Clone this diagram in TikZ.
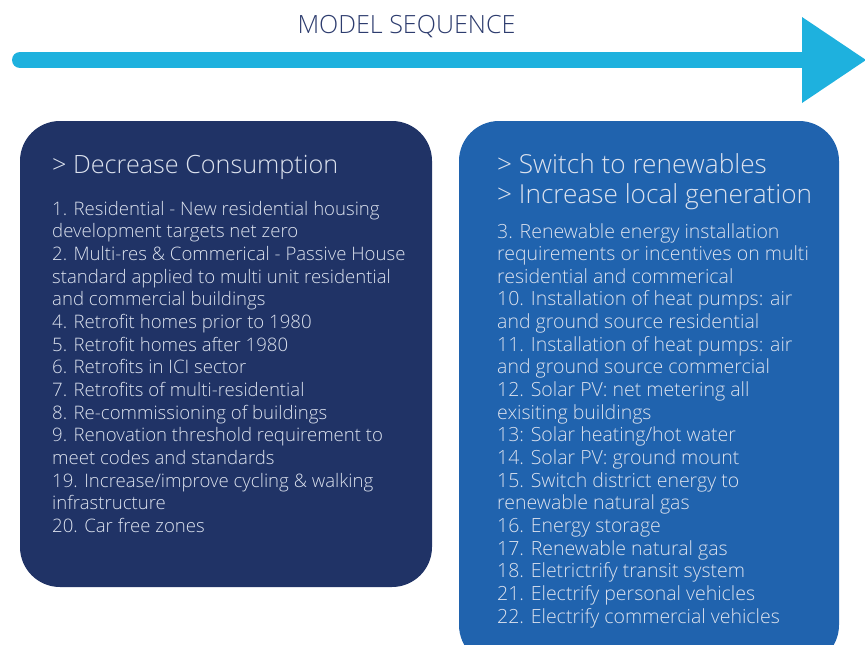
\documentclass[tikz,border=0pt]{standalone}
\usepackage{fontspec}
\setmainfont{Open Sans Light}
\definecolor{navy}{HTML}{203366}
\definecolor{boxblue}{HTML}{2063AE}
\definecolor{arrowblue}{HTML}{1EB1DE}
\definecolor{titlecol}{HTML}{2D3C6E}
\definecolor{txt}{HTML}{DCE2EE}
\tikzset{
  bodyline/.style={anchor=base west, inner sep=0pt, text=txt, font=\fontsize{18.6}{22}\selectfont},
  rbodyline/.style={bodyline, font=\fontsize{19.5}{22}\selectfont},
  headline/.style={anchor=base west, inner sep=0pt, text=txt, font=\fontsize{25.2}{28}\selectfont},
  rheadline/.style={headline, font=\fontsize{26.2}{28}\selectfont},
}
\begin{document}
\begin{tikzpicture}[x=1pt,y=-1pt]
\useasboundingbox (0,0) rectangle (865,645);
\clip (0,0) rectangle (865,645);
% title
\node[anchor=base, inner sep=0pt, text=titlecol, font=\fontsize{25.1}{28}\selectfont] (title) at (406.5,33) {MODEL SEQUENCE};
% arrow
\coordinate (as) at (20,60);
\coordinate (ae) at (806,60);
\draw[arrowblue, line width=16pt, line cap=round] (as) -- (ae);
\fill[arrowblue] (802,17) -- (866,60) -- (802,103) -- cycle;
% boxes
\fill[navy, rounded corners=40pt] (20,121) rectangle (432,587);
\fill[boxblue, rounded corners=40pt] (459,121) rectangle (839,665);
% left text
\node[headline] (lh) at (52,173) {> Decrease Consumption};
\foreach \t [count=\i from 0] in {
 {1. Residential - New residential housing},
 {development targets net zero},
 {2. Multi-res \& Commerical - Passive House},
 {standard applied to multi unit residential},
 {and commercial buildings},
 {4. Retrofit homes prior to 1980},
 {5. Retrofit homes after 1980},
 {6. Retrofits in ICI sector},
 {7. Retrofits of multi-residential},
 {8. Re-commissioning of buildings},
 {9. Renovation threshold requirement to},
 {meet codes and standards},
 {19. Increase/improve cycling \& walking},
 {infrastructure},
 {20. Car free zones}}
 \node[bodyline] (l\i) at (52,215+22.68*\i) {\t};
% right text
\node[rheadline] (rh1) at (497,173) {> Switch to renewables};
\node[rheadline] (rh2) at (497,203) {> Increase local generation};
\foreach \t [count=\i from 0] in {
 {3. Renewable energy installation},
 {requirements or incentives on multi},
 {residential and commerical},
 {10. Installation of heat pumps: air},
 {and ground source residential},
 {11. Installation of heat pumps: air},
 {and ground source commercial},
 {12. Solar PV: net metering all},
 {exisiting buildings},
 {13: Solar heating/hot water},
 {14. Solar PV: ground mount},
 {15. Switch district energy to},
 {renewable natural gas},
 {16. Energy storage},
 {17. Renewable natural gas},
 {18. Eletrictrify transit system},
 {21. Electrify personal vehicles},
 {22. Electrify commercial vehicles}}
 \node[rbodyline] (r\i) at (497,238+22.65*\i) {\t};
\end{tikzpicture}
\end{document}
